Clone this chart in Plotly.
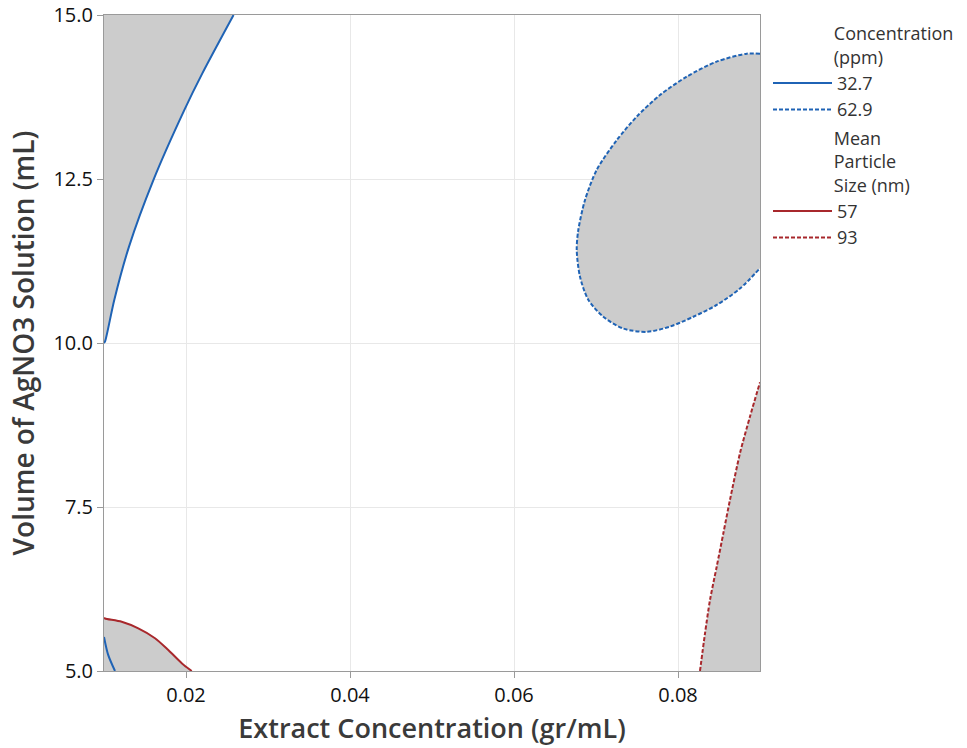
import plotly.graph_objects as go

# Boundary curves (x = Extract Concentration, y = Volume of AgNO3)
conc_low_top_x = [0.0100, 0.01012, 0.01126, 0.01305, 0.01601, 0.01979, 0.02199, 0.02580]
conc_low_top_y = [10.00, 10.02, 10.66, 11.47, 12.48, 13.55, 14.11, 15.00]

conc_low_bot_x = [0.0100, 0.01050, 0.01134]
conc_low_bot_y = [5.52, 5.25, 5.00]

conc_high_x = [0.0900, 0.08838, 0.08472, 0.08106, 0.07780, 0.07496, 0.07252, 0.07009,
               0.06866, 0.06784, 0.06765, 0.06805, 0.06906, 0.07089, 0.07333, 0.07618,
               0.07902, 0.08187, 0.08472, 0.08756, 0.0900]
conc_high_y = [14.41, 14.41, 14.29, 14.06, 13.78, 13.45, 13.09, 12.64,
               12.18, 11.72, 11.42, 11.01, 10.66, 10.40, 10.22, 10.17,
               10.25, 10.40, 10.58, 10.83, 11.14]

size_low_x = [0.0100, 0.01012, 0.01216, 0.01418, 0.01622, 0.01784, 0.01948, 0.0207]
size_low_y = [5.81, 5.80, 5.75, 5.65, 5.50, 5.32, 5.12, 5.00]

size_high_x = [0.08268, 0.08329, 0.08390, 0.08472, 0.08553, 0.08634, 0.08756, 0.08878, 0.0900]
size_high_y = [5.00, 5.57, 6.08, 6.59, 7.10, 7.61, 8.32, 8.88, 9.40]

x_ticks = [0.02, 0.04, 0.06, 0.08]
y_ticks = [5.0, 7.5, 10.0, 12.5, 15.0]
x_range = [0.01, 0.09]
y_range = [5.0, 15.0]

BLUE = "#1f63b5"
RED = "#a8282c"
GRAY = "#cccccc"
FONT = "Open Sans"
DASH = "4px,2px"
SPLINE = dict(shape="spline", smoothing=0.8)

fig = go.Figure()

# shaded (infeasible) regions: same points and spline as the boundary lines
def shade(xs, ys, fill):
    fig.add_trace(go.Scatter(x=xs, y=ys, mode="lines", fill=fill, fillcolor=GRAY,
                             line=dict(width=0, color=GRAY, **SPLINE),
                             showlegend=False, hoverinfo="skip"))

shade(conc_low_top_x, conc_low_top_y, "tozerox")
shade(size_low_x, size_low_y, "tozeroy")
shade(conc_high_x, conc_high_y, "toself")
shade(size_high_x, size_high_y, "tozeroy")

def line(xs, ys, color, dash, name, group, title, show):
    fig.add_trace(go.Scatter(
        x=xs, y=ys, mode="lines",
        line=dict(color=color, width=2, dash=dash, **SPLINE),
        name=name, legendgroup=group, showlegend=show,
        legendgrouptitle=dict(text=title) if title else None, hoverinfo="skip"))

PAD = "&nbsp;" * 13
line(conc_low_top_x, conc_low_top_y, BLUE, "solid", "32.7", "conc",
     PAD + "Concentration<br>" + PAD + "(ppm)", True)
line(conc_low_bot_x, conc_low_bot_y, BLUE, "solid", "32.7", "conc", None, False)
line(conc_high_x, conc_high_y, BLUE, DASH, "62.9", "conc", None, True)
line(size_low_x, size_low_y, RED, "solid", "57", "size",
     PAD + "Mean<br>" + PAD + "Particle<br>" + PAD + "Size (nm)", True)
line(size_high_x, size_high_y, RED, DASH, "93", "size", None, True)

axis_common = dict(showline=True, linecolor="#9a9a9a", linewidth=1, mirror=True,
                   showgrid=True, gridcolor="#e8e8e8", gridwidth=1, zeroline=False,
                   ticks="outside", ticklen=6, tickcolor="#9a9a9a", automargin=False,
                   tickfont=dict(family=FONT, size=20, color="#111111"))

fig.update_xaxes(range=x_range, tickvals=x_ticks, tickformat=".2f",
                 title=dict(text="Extract Concentration (gr/mL)", standoff=12,
                            font=dict(family=FONT, size=27, color="#3a3a3a", weight=600)),
                 **axis_common)
fig.update_yaxes(range=y_range, tickvals=y_ticks, tickformat=".1f",
                 title=dict(text="Volume of AgNO3 Solution (mL)", standoff=10,
                            font=dict(family=FONT, size=28, color="#3a3a3a", weight=600)),
                 **axis_common)

fig.update_layout(
    width=967, height=748,
    margin=dict(l=104, r=207, t=15, b=77, autoexpand=False),
    plot_bgcolor="white", paper_bgcolor="white",
    font=dict(family=FONT, size=18, color="#333333"),
    legend=dict(x=1.0122, xanchor="left", y=1.0, yanchor="top",
                font=dict(family=FONT, size=18, color="#333333"),
                tracegroupgap=2, itemwidth=59,
                grouptitlefont=dict(family=FONT, size=18, color="#333333")),
)

fig.write_html("out.html")
